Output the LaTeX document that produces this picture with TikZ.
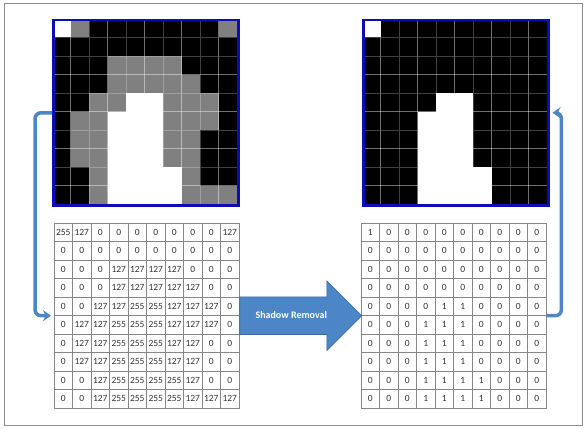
\documentclass[tikz,border=0pt]{standalone}
\usepackage{fontspec}
\setmainfont{Carlito}
\usetikzlibrary{positioning,arrows.meta,shapes.arrows}
\definecolor{px0}{RGB}{0,0,0}
\definecolor{px127}{RGB}{128,128,128}
\definecolor{px255}{RGB}{255,255,255}
\definecolor{bin0}{RGB}{0,0,0}
\definecolor{bin1}{RGB}{255,255,255}
\definecolor{frameblue}{RGB}{12,12,185}
\definecolor{arrowblue}{RGB}{76,134,198}
\definecolor{arrowedge}{RGB}{60,104,160}
\definecolor{tabline}{RGB}{135,135,135}

\begin{document}
\begin{tikzpicture}[
    x=1pt, y=-1pt,
    pixel/.style={minimum size=18.5pt, inner sep=0pt, draw=white, draw opacity=0.25, line width=0.8pt},
    entry/.style={minimum size=18.5pt, inner sep=0pt, draw=tabline, line width=0.7pt, text=black!80, font=\fontsize{9.5}{10}\selectfont},
    imgframe/.style={draw=frameblue, line width=2.5pt, minimum size=185pt, inner sep=0pt},
    tabframe/.style={minimum size=185pt, inner sep=0pt},
    bigarrow/.style={single arrow, fill=arrowblue, draw=arrowedge, line width=0.6pt, text=white,
        font=\bfseries\fontsize{10}{12}\selectfont, minimum height=122pt, minimum width=69pt,
        single arrow head extend=16pt, single arrow tip angle=90, inner ysep=14pt,
        text height=7pt, text depth=2pt, inner xsep=2pt},
    link/.style={draw=arrowblue, line width=3.5pt, rounded corners=6pt, -{Stealth[length=8pt, width=11pt]}, shorten >=3pt}
]
\useasboundingbox (0,0) rectangle (585,428);
\draw[black!45, line width=1pt] (4,4) rectangle (582,425);

\foreach \vals [count=\r] in {
    {255,127,0,0,0,0,0,0,0,127},
    {0,0,0,0,0,0,0,0,0,0},
    {0,0,0,127,127,127,127,0,0,0},
    {0,0,0,127,127,127,127,127,0,0},
    {0,0,127,127,255,255,127,127,127,0},
    {0,127,127,255,255,255,127,127,127,0},
    {0,127,127,255,255,255,127,127,0,0},
    {0,127,127,255,255,255,127,127,0,0},
    {0,0,127,255,255,255,255,127,0,0},
    {0,0,127,255,255,255,255,127,127,127}}{
  \foreach \v [count=\c] in \vals {
    \node[pixel, fill=px\v] (lp\r-\c) at ({52+18.5*\c-9.25}, {19+18.5*\r-9.25}) {};
    \node[entry] (lt\r-\c) at ({54+18.5*\c-9.25}, {223+18.5*\r-9.25}) {\v};
  }
}

\foreach \vals [count=\r] in {
    {1,0,0,0,0,0,0,0,0,0},
    {0,0,0,0,0,0,0,0,0,0},
    {0,0,0,0,0,0,0,0,0,0},
    {0,0,0,0,0,0,0,0,0,0},
    {0,0,0,0,1,1,0,0,0,0},
    {0,0,0,1,1,1,0,0,0,0},
    {0,0,0,1,1,1,0,0,0,0},
    {0,0,0,1,1,1,0,0,0,0},
    {0,0,0,1,1,1,1,0,0,0},
    {0,0,0,1,1,1,1,0,0,0}}{
  \foreach \v [count=\c] in \vals {
    \node[pixel, fill=bin\v] (rp\r-\c) at ({362+18.5*\c-9.25}, {19+18.5*\r-9.25}) {};
    \node[entry] (rt\r-\c) at ({361+18.5*\c-9.25}, {223+18.5*\r-9.25}) {\v};
  }
}

\node[imgframe, anchor=north west] (leftimg) at (52,19) {};
\node[tabframe, anchor=north west] (lefttab) at (54,223) {};
\node[imgframe, anchor=north west] (rightimg) at (362,19) {};
\node[tabframe, anchor=north west] (righttab) at (361,223) {};

\node[bigarrow, anchor=west] (removal) at (lefttab.east) {Shadow Removal};

\draw[link] (leftimg.west) -- ++(-17,0) |- (lefttab.west);
\draw[link] (righttab.east) -- ++(15,0) |- (rightimg.east);
\end{tikzpicture}
\end{document}
